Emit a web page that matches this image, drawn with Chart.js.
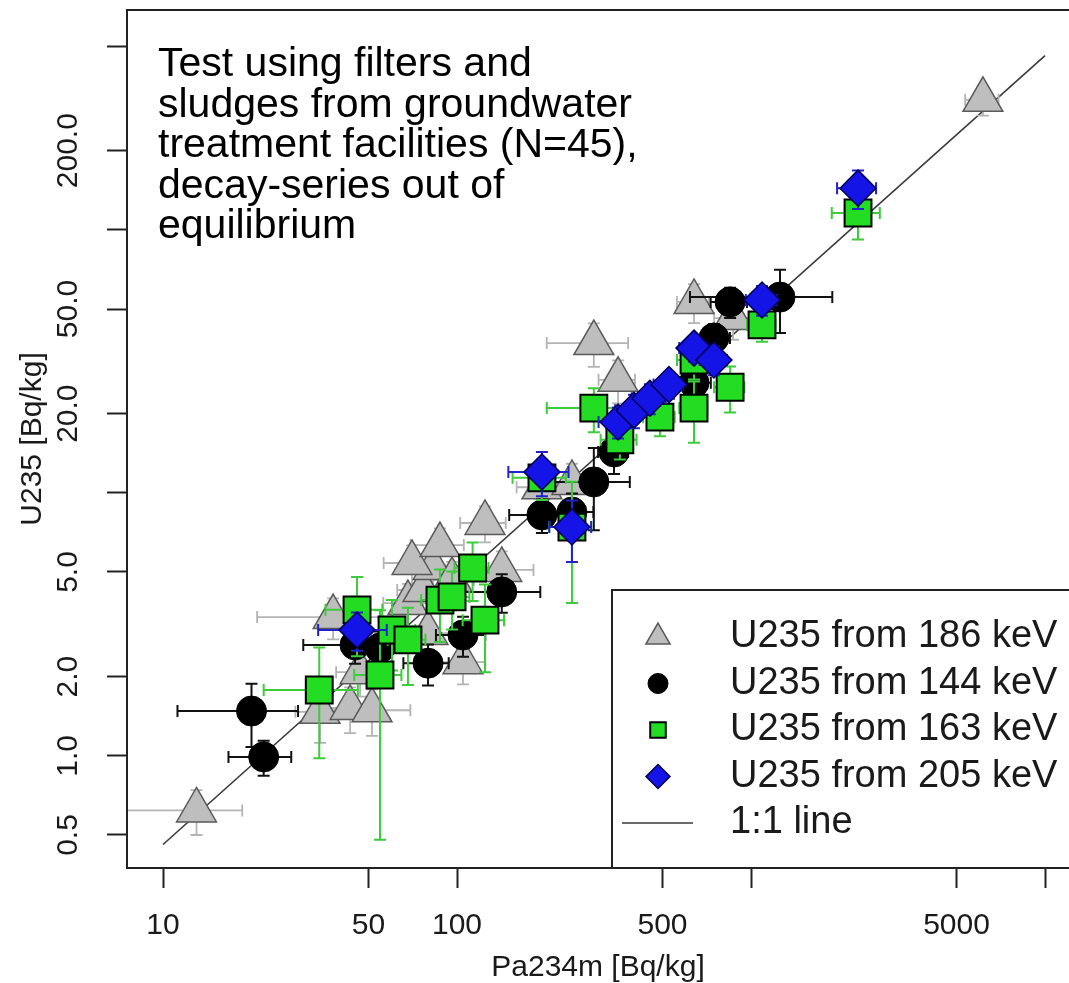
<!DOCTYPE html>
<html>
<head>
<meta charset="utf-8">
<title>U235 vs Pa234m</title>
<script src="https://cdn.jsdelivr.net/npm/chart.js@4.4.1/dist/chart.umd.min.js"></script>
<style>
  html, body { margin: 0; padding: 0; background: #fff; overflow: hidden; }
  #wrap { width: 1069px; height: 983px; }
</style>
</head>
<body>
<div id="wrap"><canvas id="plot" width="1069" height="983"></canvas></div>
<script>
// U235 from 186 keV (grey triangles)
var triX = [13, 34.2, 43.3, 51.4, 46.8, 37.9, 68.1, 76.6, 79.7, 82.9, 70.3, 87.5, 96.2, 104.8, 124.5, 142, 194.5, 246, 292, 353, 640, 869, 6150];
var triY = [0.62, 1.47, 1.52, 1.49, 2.08, 3.37, 3.81, 4.27, 2.93, 5.18, 5.41, 6.33, 4.66, 2.27, 7.68, 5.09, 10.5, 10.9, 37.1, 26.9, 53.2, 46.2, 312];
var triErrX = [5.6, 6, 9, 18, 8, 17, 12, 14, 15, 15, 14, 18, 18, 20, 22, 40, 35, 40, 90, 50, 80, 120, 800];
var triErrY = [0.12, 0.35, 0.3, 0.3, 0.4, 0.6, 0.7, 0.8, 0.6, 0.9, 0.9, 1.0, 0.8, 0.4, 1.2, 0.9, 2, 2, 7, 5, 9, 8, 40];

// U235 from 144 keV (black circles)
var cirX = [20, 22, 45, 54.7, 79.7, 104.8, 142, 194.5, 246, 292, 342, 640, 748, 849, 1255];
var cirY = [1.48, 0.99, 2.64, 2.57, 2.25, 2.88, 4.20, 8.24, 8.45, 11.0, 14.3, 26.2, 38.8, 53.2, 55.5];
var cirErrX = [8.8, 5.3, 15, 12, 14, 20, 50, 44, 45, 95, 40, 90, 100, 120, 635];
var cirErrY = [0.4, 0.15, 0.4, 0.4, 0.4, 0.5, 0.7, 1.2, 1.5, 3.8, 2.5, 4, 5, 7, 15];

// U235 from 163 keV (green squares)
var sqrX = [34, 54.7, 45.7, 60.1, 68.1, 87.5, 96.2, 113, 124.5, 246, 292, 358, 490, 640, 640, 849, 1090, 2312, 194.5];
var sqrY = [1.78, 2.03, 3.59, 3.01, 2.76, 3.91, 4.02, 5.18, 3.28, 7.41, 21.0, 15.9, 19.4, 21.0, 32.0, 25.2, 43.5, 115.9, 11.4];
var sqrErrX = [12, 10, 10, 12, 10, 12, 14, 15, 20, 40, 90, 50, 60, 70, 80, 100, 120, 430, 40];
var sqrErrY = [0.8, 1.55, 1.2, 0.9, 0.9, 1.2, 1.0, 1.3, 1.2, 3.6, 4, 2.5, 3, 5.5, 5, 5, 6, 24, 2];

// U235 from 205 keV (blue diamonds)
var dmdX = [45.7, 194.5, 246, 353, 400, 453, 526, 640, 748, 1090, 2312];
var dmdY = [3.01, 12.0, 7.41, 18.6, 20.6, 22.9, 25.8, 35.5, 32.0, 54.1, 144];
var dmdErrX = [12, 45, 40, 50, 55, 60, 60, 70, 80, 130, 350];
var dmdErrY = [0.5, 2.3, 1.95, 2.5, 3, 3, 3, 4, 4, 7, 24];

// reference line (natural U235/U238 activity ratio)
var lineX = [10, 10000];
var lineY = [0.46, 460];

var xTickValues = [10, 50, 100, 500, 1000, 5000, 10000];
var xTickLabels = ['10', '50', '100', '500', '', '5000', ''];
var yTickValues = [0.5, 1, 2, 5, 10, 20, 50, 100, 200, 500];
var yTickLabels = ['0.5', '1.0', '2.0', '5.0', '', '20.0', '50.0', '', '200.0', ''];

var noteLines = ['Test using filters and', 'sludges from groundwater', 'treatment facilities (N=45),', 'decay-series out of', 'equilibrium'];

var FONT = "'Liberation Sans', Arial, Helvetica, sans-serif";

function toPoints(xs, ys) {
    return xs.map(function (x, i) { return { x: x, y: ys[i] }; });
}

// draws the x/y error bars of a series just before its markers
var errorBars = {
    id: 'errorBars',
    beforeDatasetDraw: function (chart, args) {
        var ds = chart.data.datasets[args.index];
        if (!ds.errX) return;
        var ctx = chart.ctx, xs = chart.scales.x, ys = chart.scales.y, area = chart.chartArea;
        var cap = 6;
        ctx.save();
        ctx.beginPath();
        ctx.rect(area.left, area.top, area.right - area.left, area.bottom - area.top);
        ctx.clip();
        ctx.strokeStyle = ds.errColor;
        ctx.lineWidth = ds.errWidth;
        ds.data.forEach(function (p, i) {
            var px = xs.getPixelForValue(p.x), py = ys.getPixelForValue(p.y);
            var x0 = xs.getPixelForValue(Math.max(p.x - ds.errX[i], xs.min * 0.5));
            var x1 = xs.getPixelForValue(p.x + ds.errX[i]);
            var y0 = ys.getPixelForValue(Math.max(p.y - ds.errY[i], ys.min * 0.5));
            var y1 = ys.getPixelForValue(p.y + ds.errY[i]);
            ctx.beginPath();
            ctx.moveTo(x0, py); ctx.lineTo(x1, py);
            ctx.moveTo(x0, py - cap); ctx.lineTo(x0, py + cap);
            ctx.moveTo(x1, py - cap); ctx.lineTo(x1, py + cap);
            ctx.moveTo(px, y0); ctx.lineTo(px, y1);
            ctx.moveTo(px - cap, y0); ctx.lineTo(px + cap, y0);
            ctx.moveTo(px - cap, y1); ctx.lineTo(px + cap, y1);
            ctx.stroke();
        });
        ctx.restore();
    }
};

// box around the plot (its right side runs past the picture), the note and the legend
var decorations = {
    id: 'decorations',
    afterDraw: function (chart) {
        var ctx = chart.ctx, area = chart.chartArea;
        var farRight = area.right + 20;
        ctx.save();
        ctx.strokeStyle = '#222';
        ctx.lineWidth = 2;
        ctx.strokeRect(area.left, area.top, farRight - area.left, area.bottom - area.top);

        // note
        ctx.fillStyle = '#000';
        ctx.font = '41px ' + FONT;
        ctx.textAlign = 'left';
        ctx.textBaseline = 'alphabetic';
        noteLines.forEach(function (t, i) {
            ctx.fillText(t, area.left + 31, area.top + 66 + i * 40.5);
        });

        // legend
        var left = area.left + 485, top = area.bottom - 278;
        ctx.fillStyle = '#fff';
        ctx.fillRect(left, top, farRight - left, area.bottom - top);
        ctx.strokeStyle = '#222';
        ctx.lineWidth = 2;
        ctx.strokeRect(left, top, farRight - left, area.bottom - top);
        ctx.font = '38px ' + FONT;
        ctx.textBaseline = 'middle';
        chart.data.datasets.forEach(function (ds, i) {
            var cy = top + 47 + i * 46.5;
            var sx = left + 46;
            if (ds.showLine) {
                ctx.strokeStyle = ds.borderColor;
                ctx.lineWidth = ds.borderWidth;
                ctx.beginPath();
                ctx.moveTo(left + 10, cy);
                ctx.lineTo(left + 81, cy);
                ctx.stroke();
            } else {
                ctx.fillStyle = ds.backgroundColor;
                ctx.strokeStyle = ds.borderColor;
                ctx.lineWidth = ds.borderWidth;
                Chart.helpers.drawPoint(ctx, {
                    pointStyle: ds.pointStyle, radius: ds.legendRadius,
                    borderWidth: ds.borderWidth, rotation: 0
                }, sx, cy);
            }
            ctx.fillStyle = '#1a1a1a';
            ctx.fillText(ds.label, left + 118, cy);
        });
        ctx.restore();
    }
};

new Chart(document.getElementById('plot'), {
    type: 'scatter',
    data: {
        datasets: [{
            label: 'U235 from 186 keV',
            data: toPoints(triX, triY),
            errX: triErrX, errY: triErrY, errColor: '#b4b4b4', errWidth: 1.8,
            pointStyle: 'triangle', pointRadius: 23, legendRadius: 14,
            backgroundColor: '#bebebe', borderColor: '#5a5a5a', borderWidth: 1.5,
            order: 4
        }, {
            label: 'U235 from 144 keV',
            data: toPoints(cirX, cirY),
            errX: cirErrX, errY: cirErrY, errColor: '#111111', errWidth: 2,
            pointStyle: 'circle', pointRadius: 15, legendRadius: 10,
            backgroundColor: '#000000', borderColor: '#000000', borderWidth: 1,
            order: 3
        }, {
            label: 'U235 from 163 keV',
            data: toPoints(sqrX, sqrY),
            errX: sqrErrX, errY: sqrErrY, errColor: '#3ccc3c', errWidth: 2,
            pointStyle: 'rect', pointRadius: 19, legendRadius: 11,
            backgroundColor: '#22dd22', borderColor: '#000000', borderWidth: 2,
            order: 2
        }, {
            label: 'U235 from 205 keV',
            data: toPoints(dmdX, dmdY),
            errX: dmdErrX, errY: dmdErrY, errColor: '#2222cc', errWidth: 2,
            pointStyle: 'rectRot', pointRadius: 18, legendRadius: 12,
            backgroundColor: '#1414e6', borderColor: '#000050', borderWidth: 1.5,
            order: 1
        }, {
            label: '1:1 line',
            data: toPoints(lineX, lineY),
            showLine: true,
            borderColor: '#3a3a3a', borderWidth: 1.6,
            pointRadius: 0,
            order: 5
        }]
    },
    options: {
        responsive: false,
        animation: false,
        events: [],
        layout: { autoPadding: false, padding: { top: 10, right: 0, bottom: 0, left: 0 } },
        plugins: { legend: { display: false }, tooltip: { enabled: false } },
        scales: {
            x: {
                type: 'logarithmic',
                min: 7.543, max: 12066,
                border: { display: true, color: '#222', width: 2 },
                grid: { drawOnChartArea: false, drawTicks: true, tickLength: 20, tickColor: '#222', tickWidth: 2 },
                ticks: {
                    autoSkip: false, minRotation: 0, maxRotation: 0, padding: 20,
                    color: '#1a1a1a', font: { family: FONT, size: 30 },
                    callback: function (v, i) { return xTickLabels[i]; }
                },
                title: {
                    display: true, text: 'Pa234m [Bq/kg]', color: '#1a1a1a',
                    font: { family: FONT, size: 30, lineHeight: 1 }, padding: { top: 0, bottom: 0 }
                },
                afterBuildTicks: function (s) { s.ticks = xTickValues.map(function (v) { return { value: v }; }); },
                afterFit: function (s) { s.height = 115; s.paddingLeft = 0; s.paddingRight = 0; }
            },
            y: {
                type: 'logarithmic',
                min: 0.3745, max: 685.3,
                border: { display: true, color: '#222', width: 2 },
                grid: { drawOnChartArea: false, drawTicks: true, tickLength: 20, tickColor: '#222', tickWidth: 2 },
                ticks: {
                    autoSkip: false, minRotation: 90, maxRotation: 90, crossAlign: 'center', padding: 1,
                    color: '#1a1a1a', font: { family: FONT, size: 30 },
                    callback: function (v, i) { return yTickLabels[i]; }
                },
                title: {
                    display: true, text: 'U235 [Bq/kg]', color: '#1a1a1a',
                    font: { family: FONT, size: 30, lineHeight: 1 }, padding: { top: 18, bottom: 0 }
                },
                afterBuildTicks: function (s) { s.ticks = yTickValues.map(function (v) { return { value: v }; }); },
                afterFit: function (s) { s.width = 127; s.paddingTop = 0; s.paddingBottom = 0; }
            }
        }
    },
    plugins: [errorBars, decorations]
});
</script>
</body>
</html>
